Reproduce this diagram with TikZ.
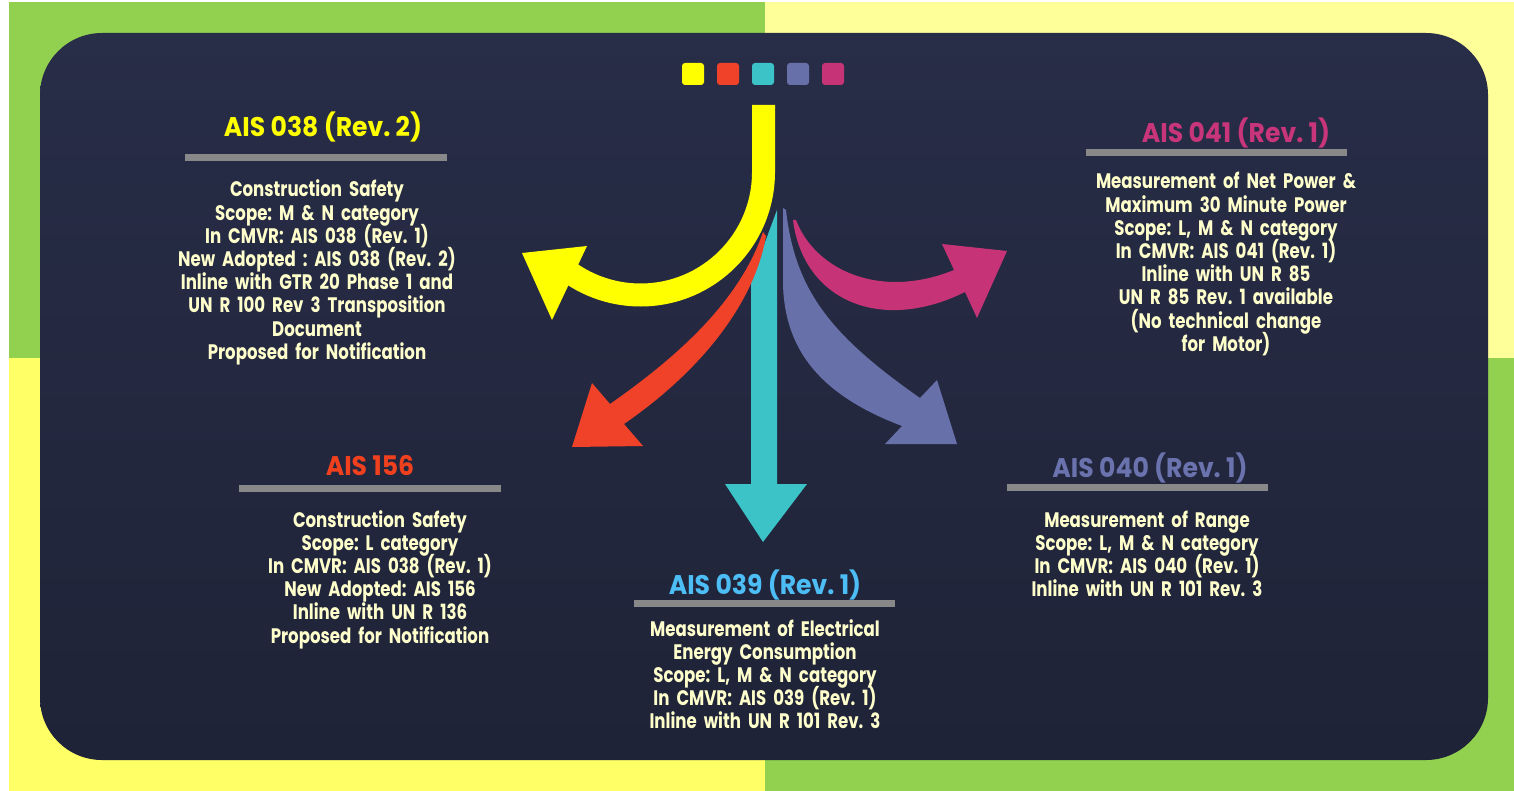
\documentclass[tikz,border=0pt]{standalone}
\usepackage{fontspec}
\setmainfont{Poppins}[FakeStretch=0.79, WordSpace=0.85]
\newfontfamily\titlefont{Poppins}[FakeStretch=0.93]
\newcommand\tightlines{\lineskiplimit=-30pt\relax\lineskip=0pt\relax}
\definecolor{panelT}{HTML}{282D48}
\definecolor{panelB}{HTML}{1F2337}
\definecolor{cYel}{HTML}{FFFF00}
\definecolor{cRed}{HTML}{F04129}
\definecolor{cTeal}{HTML}{3BC3C8}
\definecolor{cSlate}{HTML}{6770A8}
\definecolor{cMag}{HTML}{C63477}
\definecolor{tBlue}{HTML}{4DBDF5}
\definecolor{tRed}{HTML}{F0401E}
\definecolor{tMag}{HTML}{C8357A}
\definecolor{tSlate}{HTML}{6A73AE}
\definecolor{cream}{HTML}{FFFFCC}
\definecolor{rulegray}{HTML}{888888}
\definecolor{bgGreen}{HTML}{92D050}
\definecolor{bgYelA}{HTML}{FFFF99}
\definecolor{bgYelB}{HTML}{FFFF66}
\frenchspacing
\begin{document}
\begin{tikzpicture}[x=1pt,y=-1pt,
  ttl/.style={font=\titlefont\fontsize{27}{30}\selectfont\bfseries, inner sep=0, anchor=base},
  body/.style={text=cream, font=\fontsize{21}{23.2}\selectfont\bfseries\tightlines, align=center, text width=330, inner sep=0, anchor=base},
  rulebar/.style={draw=rulegray, line width=6.5},
  sq/.style={rounded corners=3}]
\useasboundingbox (0,0) rectangle (1514,791);
% background quadrants
\fill[white] (0,0) rectangle (1514,791);
\fill[bgGreen] (9,2) rectangle (765,358);
\fill[bgYelA] (765,2) rectangle (1514,358);
\fill[bgYelB] (9,358) rectangle (765,791);
\fill[bgGreen] (765,358) rectangle (1514,791);
% panel
\shade[top color=panelT, bottom color=panelB, rounded corners=62] (40,33) rectangle (1488,760);
% colour squares
\fill[cYel,sq] (682,63) rectangle (704,85);
\fill[cRed,sq] (717,63) rectangle (739,85);
\fill[cTeal,sq] (752,63) rectangle (774,85);
\fill[cSlate,sq] (787,63) rectangle (809,85);
\fill[cMag,sq] (822,63) rectangle (844,85);
% teal arrow
\fill[cTeal] (777,210) -- (777,484) -- (807,484) -- (763,542) -- (725,484) -- (751,484) -- (751,280) -- cycle;
% slate arrow
\fill[cSlate] (783,208) -- (783,285) .. controls (785,350) and (820,395) .. (902,426)
  -- (885,444) -- (957,444) -- (937,380) -- (920,398)
  .. controls (830,335) and (795,290) .. (786,210) -- cycle;
% magenta arrow
\fill[cMag] (793,220) .. controls (803,300) and (880,334) .. (965,292)
  -- (977,318) -- (1007,251) -- (942,244) -- (954,270)
  .. controls (880,300) and (815,270) .. (796,220) -- cycle;
% red arrow
\fill[cRed] (763,232) .. controls (740,300) and (680,355) .. (610,404)
  -- (592,383) -- (572,447) -- (643,446) -- (624,424)
  .. controls (705,368) and (755,300) .. (766,236) -- cycle;
% yellow arrow
\draw[cYel, line width=23] (763.5,105) -- (763.5,172) arc[start angle=0, end angle=126, radius=123];
\fill[cYel] (522,253) -- (587,246) -- (552,320) -- cycle;
% titles and rules
\node[ttl, text=cYel] (t1) at (323,137) {AIS 038 (Rev. 2)};
\draw[rulebar] (185,157.5) -- (447,157.5);
\node[ttl, text=tMag] (t2) at (1236,143) {AIS 041 (Rev. 1)};
\draw[rulebar] (1086,152.5) -- (1347,152.5);
\node[ttl, text=tRed] (t3) at (370,475) {AIS 156};
\draw[rulebar] (239,488.3) -- (501,488.3);
\node[ttl, text=tBlue] (t4) at (765,594) {AIS 039 (Rev. 1)};
\draw[rulebar] (634,603.5) -- (895,603.5);
\node[ttl, text=tSlate] (t5) at (1150,477) {AIS 040 (Rev. 1)};
\draw[rulebar] (1007,487.5) -- (1268,487.5);
% bodies
\node[body] (b1) at (317,197) {Construction Safety\\Scope: M \& N category\\In CMVR: AIS 038 (Rev. 1)\\New Adopted : AIS 038 (Rev. 2)\\Inline with GTR 20 Phase 1 and\\UN R 100 Rev 3 Transposition\\Document\\Proposed for Notification};
\node[body] (b2) at (1226,189) {Measurement of Net Power \&\\Maximum 30 Minute Power\\Scope: L, M \& N category\\In CMVR: AIS 041 (Rev. 1)\\Inline with UN R 85\\UN R 85 Rev. 1 available\\(No technical change\\for Motor)};
\node[body] (b3) at (380,527) {Construction Safety\\Scope: L category\\In CMVR: AIS 038 (Rev. 1)\\New Adopted: AIS 156\\Inline with UN R 136\\Proposed for Notification};
\node[body] (b4) at (765,636) {Measurement of Electrical\\Energy Consumption\\Scope: L, M \& N category\\In CMVR: AIS 039 (Rev. 1)\\Inline with UN R 101 Rev. 3};
\node[body] (b5) at (1147,527) {Measurement of Range\\Scope: L, M \& N category\\In CMVR: AIS 040 (Rev. 1)\\Inline with UN R 101 Rev. 3};
\end{tikzpicture}
\end{document}
